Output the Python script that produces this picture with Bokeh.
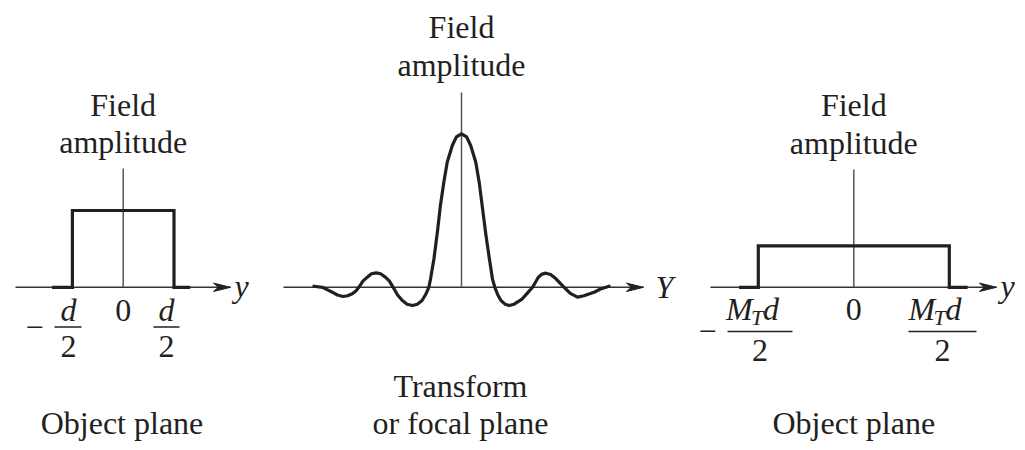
from bokeh.plotting import figure
from bokeh.layouts import row
from bokeh.models import Range1d
from bokeh.core.properties import value
from bokeh.embed import file_html
from bokeh.resources import INLINE

# ---------------- data ----------------
# object plane: rectangular aperture of width d (y in units of d)
obj_y = [-0.70, -0.5, -0.5, 0.5, 0.5, 0.66]
obj_amp = [0, 0, 1, 1, 0, 0]

# image plane: magnified aperture M_T d, M_T ~ 1.88, amplitude ~ 0.54
img_y = [-1.13, -0.94, -0.94, 0.94, 0.94, 1.12]
img_amp = [0, 0, 0.54, 0.54, 0, 0]

# transform (focal) plane: sinc-like field amplitude
tr_Y = [-4.34, -4.09, -3.95, -3.80, -3.65, -3.49, -3.35, -3.21, -3.10, -3.02,
        -2.90, -2.77, -2.65, -2.51, -2.38, -2.24, -2.12, -2.01,
        -1.88, -1.74, -1.60, -1.44, -1.30, -1.16, -1.05, -0.96,
        -0.91, -0.81, -0.71, -0.62, -0.52, -0.42, -0.27, -0.15, 0.0,
        0.15, 0.27, 0.42, 0.52, 0.62, 0.72, 0.82, 0.91, 0.98,
        1.07, 1.16, 1.28, 1.40, 1.55, 1.79, 1.95, 2.09,
        2.18, 2.26, 2.37, 2.48, 2.62, 2.78, 2.92, 3.02,
        3.20, 3.41, 3.60, 3.75, 3.90, 4.09, 4.34]
tr_amp = [0.007, 0.0, -0.015, -0.032, -0.050, -0.060, -0.055, -0.042, -0.022, 0.0,
          0.040, 0.066, 0.088, 0.094, 0.088, 0.066, 0.040, 0.0,
          -0.050, -0.086, -0.110, -0.119, -0.110, -0.086, -0.045, 0.0,
          0.055, 0.186, 0.359, 0.533, 0.685, 0.815, 0.924, 0.98, 1.0,
          0.98, 0.924, 0.815, 0.685, 0.511, 0.337, 0.186, 0.055, 0.0,
          -0.050, -0.086, -0.110, -0.119, -0.110, -0.075, -0.035, 0.0,
          0.035, 0.066, 0.086, 0.092, 0.083, 0.055, 0.022, 0.0,
          -0.040, -0.064, -0.055, -0.043, -0.032, -0.011, 0.007]

ylabel_title = ["Field", "amplitude"]
bottom_left = ["Object plane"]
bottom_mid = ["Transform", "or focal plane"]
bottom_right = ["Object plane"]

# ---------------- layout helpers ----------------
FONT = value("Liberation Serif")
INK = "#231f20"
BASE = 286.8          # page y of the horizontal axes
FS = 32               # font size in px
H = 442


class Panel:
    def __init__(self, left, width, cx, xs, ys):
        self.cx, self.xs, self.ys = cx, xs, ys
        self.p = figure(width=width, height=H, output_backend="svg",
                        toolbar_location=None,
                        x_range=Range1d((left - cx) / xs, (left + width - cx) / xs),
                        y_range=Range1d((BASE - H) / ys, BASE / ys),
                        x_axis_type=None, y_axis_type=None,
                        min_border=0, min_border_left=0, min_border_right=0,
                        min_border_top=0, min_border_bottom=0,
                        outline_line_color=None,
                        background_fill_color="white", border_fill_color="white")

    def fx(self, px):
        return (px - self.cx) / self.xs

    def fy(self, py):
        return (BASE - py) / self.ys

    def text(self, px, py, s, size=FS, style="normal", align="center", xo=0, yo=0):
        py = py - 0.26 * size   # glyph baseline correction
        self.p.text(x=[self.fx(px)], y=[self.fy(py)], text=[s], text_font=FONT,
                    text_font_size=f"{size}px", text_font_style=style,
                    text_align=align, text_baseline="alphabetic", text_color=INK,
                    x_offset=xo, y_offset=yo)

    def axis(self, px_start, px_tip, py_vtop):
        p = self.p
        x0, x1 = self.fx(px_start), self.fx(px_tip)
        p.line([x0, x1], [0, 0], line_color="#333333", line_width=1.6)
        L = 17 / self.xs
        h = 4.2 / self.ys
        p.patch([x1, x1 - L, x1 - 0.72 * L, x1 - L], [0, h, 0, -h],
                fill_color="#222222", line_color="#222222", line_width=1)
        p.line([0, 0], [0, self.fy(py_vtop)], line_color="#555555", line_width=1.5)

    def bar(self, px0, px1, py):
        self.p.line([self.fx(px0), self.fx(px1)], [self.fy(py)] * 2,
                    line_color=INK, line_width=1.5)


# ---------------- panel 1: object plane ----------------
A = Panel(0, 270, 122.7, 101.6, 76.8)
A.axis(15, 230, 168)
A.p.line(obj_y, obj_amp, line_color=INK, line_width=3.2, line_join="miter")
A.text(122.7, 113, ylabel_title[0])
A.text(122.7, 150, ylabel_title[1])
A.text(241, 294, "y", style="italic")
A.text(122.7, 318, "0")
A.text(34, 335, "\u2212")
A.text(68, 318, "d", style="italic")
A.bar(54, 81, 326.5)
A.text(68, 354, "2")
A.text(166, 318, "d", style="italic")
A.bar(153, 179, 326.5)
A.text(166, 354, "2")
A.text(121.5, 431, bottom_left[0])

# ---------------- panel 2: transform plane ----------------
B = Panel(270, 420, 461, 34, 153.5)
B.axis(283, 643, 92)
B.p.line(tr_Y, tr_amp, line_color=INK, line_width=3.2, line_join="round",
         line_cap="round")
B.text(461, 35, ylabel_title[0])
B.text(461, 73, ylabel_title[1])
B.text(664, 295, "Y", style="italic")
B.text(460, 394, bottom_mid[0])
B.text(460, 431, bottom_mid[1])

# ---------------- panel 3: image plane ----------------
C = Panel(690, 327, 853.3, 101.6, 76.8)
C.axis(710, 996, 169)
C.p.line(img_y, img_amp, line_color=INK, line_width=3.2, line_join="miter")
C.text(853.3, 113, ylabel_title[0])
C.text(853.3, 151, ylabel_title[1])
C.text(1000, 294, "y", style="italic", align="left")
C.text(853.3, 317, "0")
C.text(707, 339, "\u2212")
for cxm in (759.5, 942):
    C.text(cxm, 317, "M", style="italic", align="left", xo=-34)
    C.text(cxm, 317, "T", size=22, style="italic", align="left", xo=-9, yo=6)
    C.text(cxm, 317, "d", style="italic", align="left", xo=3)
C.bar(727, 792, 331)
C.text(759.5, 358, "2")
C.bar(908, 976, 331)
C.text(942, 358, "2")
C.text(853.3, 431, bottom_right[0])

layout = row(A.p, B.p, C.p)
open("out.html", "w").write(file_html(layout, INLINE))
